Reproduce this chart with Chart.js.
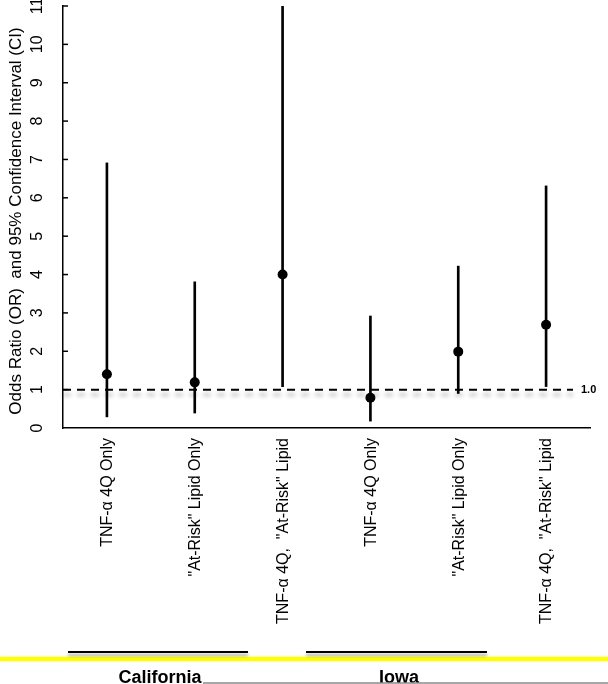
<!DOCTYPE html>
<html>
<head>
<meta charset="utf-8">
<title>Odds Ratio - California / Iowa</title>
<script src="https://cdn.jsdelivr.net/npm/chart.js@4/dist/chart.umd.min.js"></script>
<style>
    html, body { margin: 0; padding: 0; background: #ffffff; }
    #wrap { width: 608px; height: 684px; position: relative; }
</style>
</head>
<body>
<div id="wrap"><canvas id="orChart"></canvas></div>
<script>
// --- Veriler ---
const categories = [
    'TNF-\u03b1 4Q Only',
    '"At-Risk" Lipid Only',
    'TNF-\u03b1 4Q,  "At-Risk" Lipid',
    'TNF-\u03b1 4Q Only',
    '"At-Risk" Lipid Only',
    'TNF-\u03b1 4Q,  "At-Risk" Lipid'
];
const oddsRatio = [1.40, 1.19, 4.00, 0.79, 1.99, 2.69];
const ciLower   = [0.29, 0.39, 1.08, 0.18, 0.90, 1.08];
const ciUpper   = [6.91, 3.81, 11.0, 2.92, 4.22, 6.31];
const yTicks    = [0, 1, 2, 3, 4, 5, 6, 7, 8, 9, 10, 11];
const refValue  = 1.0;
const groups    = ['California', 'Iowa'];

const black = '#000000';
const fontFamily = 'Arial, "Liberation Sans", Helvetica, sans-serif';

// Eksen etiketleri, referans çizgisi ve grup başlıkları
const annotationPlugin = {
    id: 'orAnnotations',
    afterDraw(chart) {
        const ctx = chart.ctx;
        const xs = chart.scales.x;
        const ys = chart.scales.y;
        const area = chart.chartArea;

        ctx.save();
        ctx.fillStyle = black;
        ctx.strokeStyle = black;

        // y tikleri (içe doğru) ve döndürülmüş sayılar
        ctx.lineWidth = 1.5;
        ctx.font = '16px ' + fontFamily;
        yTicks.forEach(v => {
            const py = ys.getPixelForValue(v);
            if (v > 0) {
                ctx.beginPath();
                ctx.moveTo(area.left, py);
                ctx.lineTo(area.left + 5, py);
                ctx.stroke();
            }
            ctx.save();
            ctx.translate(38, py);
            ctx.rotate(-Math.PI / 2);
            ctx.textAlign = 'center';
            ctx.textBaseline = 'middle';
            ctx.fillText(String(v), 0, 0);
            ctx.restore();
        });

        // y ekseni başlığı
        ctx.save();
        ctx.font = '17px ' + fontFamily;
        ctx.translate(16, (area.top + area.bottom) / 2 + 4);
        ctx.rotate(-Math.PI / 2);
        ctx.textAlign = 'center';
        ctx.textBaseline = 'middle';
        ctx.fillText('Odds Ratio (OR)  and 95% Confidence Interval (CI)', 0, 0);
        ctx.restore();

        // x kategori etiketleri (dikey)
        ctx.font = '16px ' + fontFamily;
        categories.forEach((label, i) => {
            const px = xs.getPixelForTick(i);
            ctx.save();
            ctx.translate(px + 1, area.bottom + 10);
            ctx.rotate(-Math.PI / 2);
            ctx.textAlign = 'right';
            ctx.textBaseline = 'middle';
            ctx.fillText(label, 0, 0);
            ctx.restore();
        });

        // OR = 1.0 kesikli referans çizgisi (gölgeli)
        const refY = ys.getPixelForValue(refValue);
        ctx.save();
        ctx.shadowColor = 'rgba(0, 0, 0, 0.35)';
        ctx.shadowBlur = 4;
        ctx.shadowOffsetY = 5;
        ctx.lineWidth = 2;
        ctx.setLineDash([8, 6]);
        ctx.beginPath();
        ctx.moveTo(area.left, refY);
        ctx.lineTo(573, refY);
        ctx.stroke();
        ctx.restore();

        ctx.font = 'bold 11px ' + fontFamily;
        ctx.textAlign = 'left';
        ctx.textBaseline = 'middle';
        ctx.fillText(refValue.toFixed(1), 581, refY);

        // sarı ayırıcı çizgi
        ctx.save();
        ctx.shadowColor = 'rgba(230, 230, 0, 0.6)';
        ctx.shadowBlur = 3;
        ctx.strokeStyle = '#ffff00';
        ctx.lineWidth = 4;
        ctx.beginPath();
        ctx.moveTo(0, 659);
        ctx.lineTo(608, 659);
        ctx.stroke();
        ctx.restore();

        // grup çizgileri
        ctx.save();
        ctx.shadowColor = 'rgba(0, 0, 0, 0.35)';
        ctx.shadowBlur = 3;
        ctx.shadowOffsetY = 3;
        ctx.lineWidth = 2;
        [[68, 248], [306, 487]].forEach(seg => {
            ctx.beginPath();
            ctx.moveTo(seg[0], 652);
            ctx.lineTo(seg[1], 652);
            ctx.stroke();
        });
        ctx.restore();

        // grup başlıkları
        ctx.font = 'bold 18px ' + fontFamily;
        ctx.textAlign = 'center';
        ctx.textBaseline = 'alphabetic';
        ctx.fillText(groups[0], 160, 683);
        ctx.fillText(groups[1], 399, 683);

        // alttaki ince gri çizgi
        ctx.strokeStyle = '#8a8a8a';
        ctx.lineWidth = 1.5;
        ctx.beginPath();
        ctx.moveTo(203, 683);
        ctx.lineTo(608, 683);
        ctx.stroke();

        ctx.restore();
    }
};

const ctx = document.getElementById('orChart').getContext('2d');
new Chart(ctx, {
    type: 'bar',
    data: {
        labels: categories,
        datasets: [
            {
                // güven aralığı: yüzen çubuk
                label: '95% CI',
                data: ciLower.map((lo, i) => [lo, ciUpper[i]]),
                backgroundColor: black,
                borderWidth: 0,
                barThickness: 2,
                order: 2
            },
            {
                label: 'OR',
                type: 'line',
                data: oddsRatio,
                showLine: false,
                pointRadius: 5,
                pointHoverRadius: 5,
                pointBackgroundColor: black,
                pointBorderColor: black,
                pointBorderWidth: 0,
                order: 1
            }
        ]
    },
    options: {
        responsive: true,
        maintainAspectRatio: false,
        animation: false,
        layout: { padding: { top: 6, right: 18, left: 0, bottom: 0 } },
        plugins: {
            legend: { display: false },
            tooltip: { enabled: false }
        },
        scales: {
            x: {
                offset: true,
                grid: { display: false },
                border: { display: true, color: black, width: 1.5 },
                ticks: { display: false },
                afterFit: scale => { scale.height = 256; }
            },
            y: {
                min: 0,
                max: 11,
                ticks: { display: false, stepSize: 1 },
                grid: { display: false },
                border: { display: true, color: black, width: 1.5 },
                afterFit: scale => { scale.width = 63; }
            }
        }
    },
    plugins: [annotationPlugin]
});
</script>
</body>
</html>
